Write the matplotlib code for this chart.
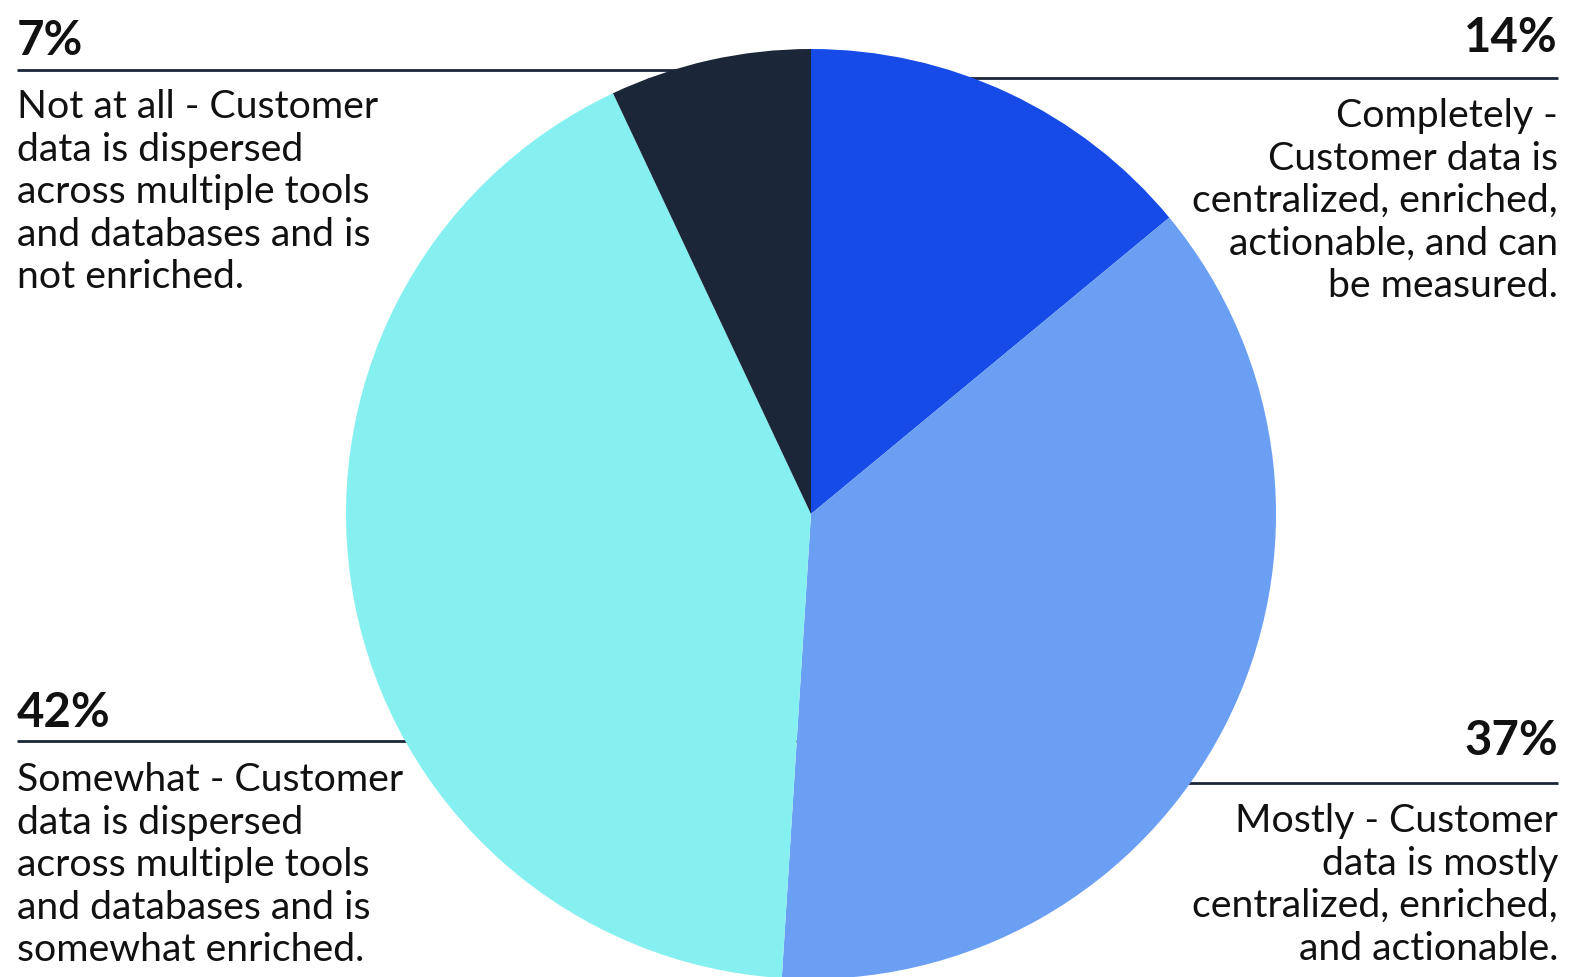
import matplotlib
matplotlib.use("Agg")
import matplotlib.pyplot as plt

# %% data
labels = ["Completely", "Mostly", "Somewhat", "Not at all"]
values = [14, 37, 42, 7]
colors = ["#174be8", "#6b9ff4", "#86f0f0", "#1c2639"]
pct_labels = ["14%", "37%", "42%", "7%"]
descriptions = [
    "Completely -\nCustomer data is\ncentralized, enriched,\nactionable, and can\nbe measured.",
    "Mostly - Customer\ndata is mostly\ncentralized, enriched,\nand actionable.",
    "Somewhat - Customer\ndata is dispersed\nacross multiple tools\nand databases and is\nsomewhat enriched.",
    "Not at all - Customer\ndata is dispersed\nacross multiple tools\nand databases and is\nnot enriched.",
]

W, H = 1571, 978
def Y(y):
    return H - y

plt.rcParams['font.family'] = ['Lato', 'DejaVu Sans']

fig = plt.figure(figsize=(W / 100, H / 100), dpi=100)
ax = fig.add_axes([0, 0, 1, 1])

# %% pie
cx, cy, r = 811, 515, 465
ax.pie(values, colors=colors, startangle=90, counterclock=False,
       center=(cx, Y(cy)), radius=r, wedgeprops=dict(linewidth=0))

# %% labels: (x, ha, pct baseline, rule y, text top)
layout = [
    (1558, 'right', 52, 79, 98),
    (1558, 'right', 755, 784, 803),
    (17, 'left', 727, 742, 762),
    (17, 'left', 55, 71, 89),
]
line_col = "#1c2639"
for pct, desc, (x, ha, yb, yr, yt) in zip(pct_labels, descriptions, layout):
    ax.text(x, Y(yb), pct, ha=ha, va='baseline', fontsize=34,
            fontweight='bold', color='#111111')
    ax.plot([x, cx], [Y(yr), Y(yr)], color=line_col, lw=2, zorder=0,
            solid_capstyle='butt')
    ax.text(x, Y(yt), desc, ha=ha, va='top', fontsize=28.3, color='#111111',
            linespacing=1.225, multialignment=ha)

ax.set_xlim(0, W)
ax.set_ylim(0, H)
ax.set_aspect('auto')
ax.axis('off')

fig.savefig("out.png", dpi=100, facecolor='white')
